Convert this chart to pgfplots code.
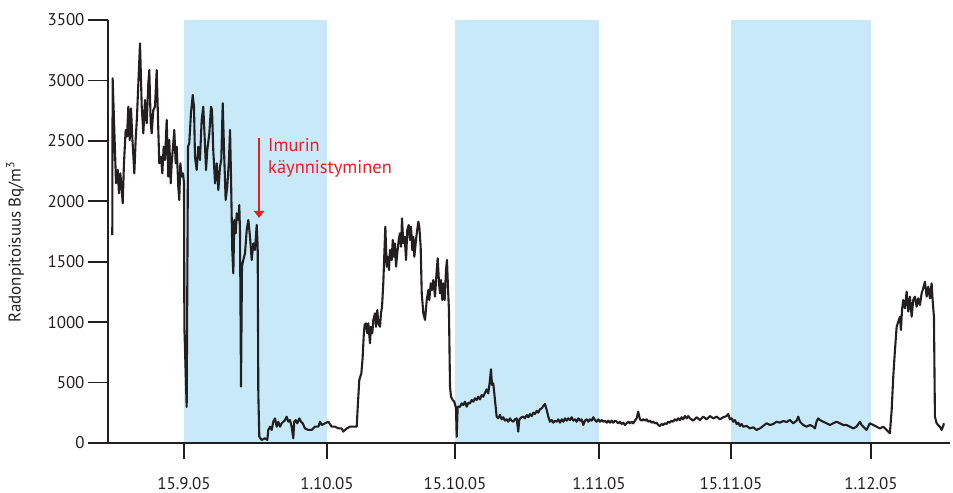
\documentclass[border=0pt]{standalone}
\usepackage{pgfplots}
\pgfplotsset{compat=1.18}
\usetikzlibrary{arrows.meta}
\usepackage{fontspec}
\setmainfont{PT Sans}
\definecolor{shade}{RGB}{199,233,248}
\definecolor{ink}{RGB}{35,31,32}
\definecolor{annot}{RGB}{237,28,36}
\begin{document}
\begin{tikzpicture}
\useasboundingbox (0,0) rectangle (953bp,493bp);
\begin{axis}[
  at={(108bp,50bp)}, anchor=south west,
  scale only axis, width=842bp, height=423bp,
  xmin=6.48, xmax=100.87, ymin=0, ymax=3500,
  axis lines=left,
  axis line style={-, line width=1.8bp, ink},
  axis on top,
  tick align=outside,
  major tick length=20bp,
  every major x tick/.append style={/pgfplots/major tick length=16bp},
  tick style={line width=1.8bp, ink},
  xtick={15,31.03,45.38,61.52,76.32,92.01},
  xticklabels={15.9.05,1.10.05,15.10.05,1.11.05,15.11.05,1.12.05},
  ytick={0,500,1000,1500,2000,2500,3000,3500},
  /pgf/number format/assume math mode=true,
  /pgf/number format/1000 sep={},
  ticklabel style={font=\fontsize{17}{20}\selectfont, text=ink},
  xticklabel style={inner sep=0pt, yshift=-14bp},
  ylabel={Radonpitoisuus Bq/m\textsuperscript{3}},
  ylabel style={font=\fontsize{17}{20}\selectfont, text=ink, at={(axis description cs:-0.1105,0.475)}, anchor=center},
]
\addplot[draw=none, fill=shade] coordinates {(15,0) (15,3500) (31.03,3500) (31.03,0)} -- cycle;
\addplot[draw=none, fill=shade] coordinates {(45.38,0) (45.38,3500) (61.52,3500) (61.52,0)} -- cycle;
\addplot[draw=none, fill=shade] coordinates {(76.32,0) (76.32,3500) (92.01,3500) (92.01,0)} -- cycle;
\addplot[ink, line width=2.1bp, line join=round, mark=none] coordinates {
(6.96,1721) (7.00,3017) (7.38,2149) (7.57,2259) (7.71,2066) (7.86,2231) (8.02,2093) (8.13,1983)
(8.27,2314) (8.46,2590) (8.61,2535) (8.76,2783) (8.91,2507) (9.06,2769) (9.20,2535) (9.43,2231)
(9.58,2507) (9.73,2700) (9.88,2976) (10.07,3307) (10.26,2783) (10.44,2562) (10.63,2838) (10.82,2645)
(11.00,2976) (11.11,3086) (11.27,2645) (11.38,2562) (11.56,2755) (11.75,2783) (11.94,3086) (12.12,2590)
(12.23,2314) (12.42,2369) (12.57,2231) (12.72,2452) (12.87,2342) (13.06,2673) (13.24,2204) (13.35,2507)
(13.51,2149) (13.62,2314) (13.80,2480) (13.91,2590) (14.07,2314) (14.18,2452) (14.36,2121) (14.47,2011)
(14.59,2314) (14.74,2204) (14.89,2231) (15.00,2149) (15.04,962) (15.30,298) (15.45,2452) (15.59,2480)
(15.78,2728) (15.98,2879) (16.12,2783) (16.23,2369) (16.42,2259) (16.60,2452) (16.79,2342) (16.98,2673)
(17.16,2783) (17.28,2590) (17.47,2259) (17.61,2424) (17.84,2562) (18.03,2783) (18.14,2755) (18.28,2424)
(18.48,2149) (18.67,2314) (18.85,2093) (19.04,2286) (19.18,2342) (19.34,2811) (19.52,2342) (19.67,2011)
(19.85,2121) (20.04,2342) (20.16,2590) (20.27,2204) (20.41,1597) (20.53,1404) (20.64,1845) (20.80,1735)
(20.91,1900) (21.09,1845) (21.20,1969) (21.28,1735) (21.39,466) (21.50,1459) (21.65,1514) (21.84,1570)
(22.03,1762) (22.21,1845) (22.40,1707) (22.59,1514) (22.77,1652) (22.96,1597) (23.15,1804) (23.26,1624)
(23.33,411) (23.44,52) (23.71,25) (24.08,39) (24.34,25) (24.45,108) (24.64,135) (24.83,108)
(25.01,176) (25.20,204) (25.39,135) (25.57,176) (25.76,135) (25.95,163) (26.13,176) (26.32,190)
(26.51,218) (26.69,176) (26.88,190) (27.07,135) (27.25,39) (27.36,176) (27.52,190) (27.70,163)
(27.93,204) (28.12,176) (28.31,163) (28.56,121) (28.93,108) (29.31,108) (29.68,135) (30.06,135)
(30.25,176) (30.44,149) (30.81,163) (31.18,176) (31.56,135) (31.93,135) (32.30,121) (32.68,121)
(32.86,94) (33.24,121) (33.61,135) (33.98,135) (34.36,135) (34.50,330) (34.65,521) (34.88,577)
(35.02,700) (35.15,890) (35.25,980) (35.40,990) (35.55,908) (35.66,990) (35.85,825) (35.96,962)
(36.11,908) (36.22,1018) (36.41,1073) (36.52,962) (36.67,1100) (36.78,990) (36.97,962) (37.08,1073)
(37.20,1128) (37.34,1321) (37.46,1570) (37.57,1790) (37.72,1459) (37.84,1541) (37.98,1431) (38.09,1597)
(38.28,1514) (38.40,1680) (38.54,1541) (38.65,1652) (38.77,1459) (38.91,1570) (39.07,1680) (39.21,1735)
(39.33,1624) (39.44,1859) (39.58,1652) (39.74,1707) (39.89,1514) (40.03,1762) (40.19,1804) (40.33,1680)
(40.45,1790) (40.59,1597) (40.71,1707) (40.82,1541) (40.97,1652) (41.09,1735) (41.27,1831) (41.38,1790)
(41.53,1624) (41.65,1239) (41.83,1073) (42.02,1018) (42.21,1183) (42.39,1266) (42.50,1183) (42.66,1321)
(42.80,1266) (42.95,1349) (43.14,1211) (43.33,1431) (43.44,1528) (43.59,1321) (43.70,1239) (43.81,1349)
(43.96,1183) (44.07,1321) (44.22,1183) (44.37,1431) (44.48,1514) (44.59,1293) (44.70,1100) (44.82,466)
(44.93,383) (45.12,356) (45.30,342) (45.49,287) (45.57,52) (45.68,300) (45.94,300) (46.13,328)
(46.31,314) (46.50,342) (46.69,300) (46.87,333) (47.06,328) (47.25,356) (47.43,342) (47.62,370)
(47.81,356) (47.99,383) (48.18,361) (48.37,397) (48.55,383) (48.74,416) (48.93,444) (49.11,411)
(49.30,521) (49.41,610) (49.53,480) (49.67,494) (49.86,356) (50.05,218) (50.23,204) (50.42,232)
(50.61,196) (50.79,213) (50.98,185) (51.17,196) (51.35,176) (51.54,204) (51.73,185) (51.91,176)
(52.10,196) (52.29,204) (52.47,94) (52.59,196) (52.85,213) (53.03,218) (53.22,204) (53.42,232)
(53.60,213) (53.79,240) (53.98,223) (54.16,251) (54.35,240) (54.54,267) (54.72,251) (54.91,279)
(55.10,287) (55.28,306) (55.47,323) (55.66,273) (55.84,218) (56.03,176) (56.22,190) (56.40,168)
(56.59,185) (56.78,176) (56.96,196) (57.15,168) (57.34,196) (57.52,176) (57.71,204) (57.90,185)
(58.08,204) (58.27,190) (58.46,213) (58.64,185) (58.83,196) (59.02,176) (59.20,204) (59.39,185)
(59.58,196) (59.76,149) (59.95,185) (60.14,196) (60.32,176) (60.51,196) (60.70,185) (60.88,213)
(61.07,190) (61.26,176) (61.44,196) (61.63,176) (61.82,190) (62.00,176) (62.19,185) (62.38,168)
(62.56,185) (62.75,168) (62.94,185) (63.12,168) (63.31,185) (63.50,176) (63.68,163) (63.87,176)
(64.06,157) (64.24,168) (64.43,149) (64.62,163) (64.80,176) (64.99,163) (65.18,176) (65.36,163)
(65.55,185) (65.74,204) (65.92,259) (66.11,196) (66.30,185) (66.48,196) (66.67,185) (66.86,196)
(67.04,176) (67.23,185) (67.42,168) (67.60,176) (67.79,163) (67.98,168) (68.16,149) (68.35,141)
(68.54,157) (68.72,149) (68.91,163) (69.10,157) (69.28,176) (69.47,168) (69.66,185) (69.84,176)
(70.03,196) (70.22,185) (70.40,204) (70.59,190) (70.78,213) (70.96,196) (71.15,223) (71.34,204)
(71.52,223) (71.72,204) (72.09,185) (72.47,213) (72.84,190) (73.21,218) (73.59,196) (73.96,223)
(74.33,204) (74.71,218) (75.08,196) (75.45,213) (75.83,223) (76.01,240) (76.20,196) (76.39,204)
(76.57,176) (76.76,190) (76.95,157) (77.13,168) (77.32,141) (77.51,157) (77.69,135) (78.07,141)
(78.44,121) (78.81,130) (79.19,108) (79.56,121) (79.93,141) (80.31,163) (80.68,149) (81.05,157)
(81.43,176) (81.80,168) (82.17,182) (82.55,174) (82.92,190) (83.29,163) (83.68,185) (83.86,218)
(84.05,176) (84.42,149) (84.79,135) (85.17,149) (85.54,135) (85.73,121) (85.91,176) (86.10,204)
(86.29,190) (86.66,176) (87.03,163) (87.41,149) (87.78,163) (88.15,176) (88.53,163) (88.90,149)
(89.27,149) (89.65,135) (90.02,121) (90.39,135) (90.77,176) (90.96,149) (91.14,135) (91.51,108)
(91.89,163) (92.26,149) (92.63,135) (93.01,121) (93.38,135) (93.75,108) (94.13,80) (94.33,273)
(94.51,549) (94.70,770) (94.89,962) (95.07,1004) (95.26,1045) (95.37,935) (95.49,1100) (95.63,1183)
(95.82,1114) (96.01,1252) (96.19,1087) (96.38,1211) (96.57,1045) (96.75,1183) (96.94,1211) (97.13,1128)
(97.31,1197) (97.50,1142) (97.69,1239) (97.87,1280) (98.06,1335) (98.25,1211) (98.43,1293) (98.62,1197)
(98.81,1321) (98.92,1183) (99.07,1045) (99.18,218) (99.37,163) (99.54,149) (99.74,135) (99.93,108)
(100.11,141) (100.19,163)
};
\draw[annot, line width=1.6bp, -{Triangle[width=10bp,length=7bp]}] (axis cs:23.41,2524) -- (axis cs:23.41,1862);
\node[anchor=base west, inner sep=0pt, text=annot, font=\fontsize{18.5}{22}\selectfont] at (axis cs:24.42,2416) {Imurin};
\node[anchor=base west, inner sep=0pt, text=annot, font=\fontsize{18.5}{22}\selectfont] at (axis cs:24.42,2226) {käynnistyminen};
\end{axis}
\end{tikzpicture}
\end{document}
